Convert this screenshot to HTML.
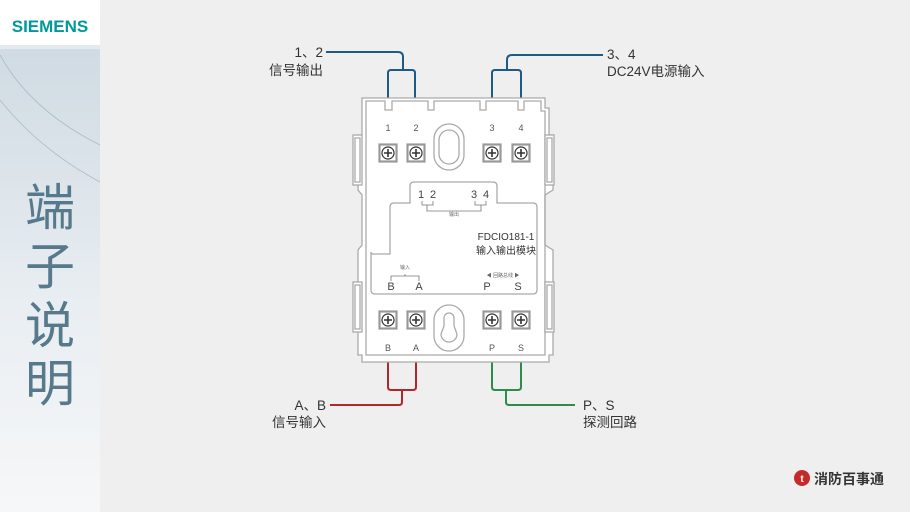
<!DOCTYPE html>
<html><head><meta charset="utf-8"><style>
body{margin:0;width:910px;height:512px;overflow:hidden;background:#efefef;font-family:"Liberation Sans","Noto Sans CJK SC",sans-serif}
</style></head><body>
<svg width="910" height="512" viewBox="0 0 910 512" xmlns="http://www.w3.org/2000/svg" style="position:absolute;left:0;top:0">
<defs>
<linearGradient id="sg" x1="0" y1="0" x2="0" y2="1">
<stop offset="0" stop-color="#cbd7e0"/><stop offset="0.6" stop-color="#e9eef2"/><stop offset="1" stop-color="#f6f7f8"/>
</linearGradient>
<g id="term"><rect x="-8.5" y="-8.5" width="17" height="17" fill="#fff" stroke="#999" stroke-width="2.2"/><circle r="6" fill="#fff" stroke="#333" stroke-width="1.2"/><path d="M-4 0H4M0 -4V4" stroke="#333" stroke-width="1.6"/></g>
</defs>
<rect x="0" y="0" width="910" height="512" fill="#efefef"/>
<rect x="0" y="0" width="100" height="512" fill="url(#sg)"/>
<rect x="0" y="0" width="100" height="45" fill="#fff"/>
<rect x="0" y="45" width="100" height="4" fill="#e4eaee"/>
<text x="50" y="32" text-anchor="middle" font-size="17" font-weight="bold" fill="#009999" font-family="Liberation Sans,sans-serif">SIEMENS</text>
<path d="M0 55 Q30 110 100 145" fill="none" stroke="#a9bcc7" stroke-width="0.8"/>
<path d="M0 100 Q40 150 100 182" fill="none" stroke="#a9bcc7" stroke-width="0.8"/>
<g font-size="50" fill="#56798c" text-anchor="middle">
<text x="50" y="225">端</text><text x="50" y="284">子</text><text x="50" y="343">说</text><text x="50" y="401">明</text>
</g>

<g fill="none" stroke-width="2">
<path d="M326 52H398Q403 52 403 57V70M388 98V73Q388 70 391 70H412Q415 70 415 73V98" stroke="#1f5a86"/>
<path d="M603 55H512Q507 55 507 60V70M492 98V73Q492 70 495 70H518Q521 70 521 73V98" stroke="#1f5a86"/>
<path d="M388 362V387Q388 390 391 390H413Q416 390 416 387V362M402 390V402Q402 405 399 405H330" stroke="#b3262e"/>
<path d="M492 362V387Q492 390 495 390H518Q521 390 521 387V362M506 390V402Q506 405 509 405H575" stroke="#2e8b4a"/>
</g>

<g fill="#fff" stroke="#aaa" stroke-width="1.3">
<path d="M362 98H545V108H549V135H553V190L545 195V245L553 250V355H549V362H362V355H358V250L362 245V195L358 190V135H362V108Z"/>
<path d="M366 101H385V110H392V101H428V110H434V101H480V110H486V101H518V110H524V101H541V111H545V355H366Z" fill="none"/>
<rect x="353" y="135" width="9" height="50"/><rect x="355" y="138" width="5" height="44" fill="none"/>
<rect x="545" y="135" width="9" height="50"/><rect x="547" y="138" width="5" height="44" fill="none"/>
<rect x="353" y="282" width="9" height="50"/><rect x="355" y="285" width="5" height="44" fill="none"/>
<rect x="545" y="282" width="9" height="50"/><rect x="547" y="285" width="5" height="44" fill="none"/>
<rect x="434" y="124" width="30" height="46" rx="15" fill="none"/>
<rect x="439" y="130" width="20" height="34" rx="10" fill="none"/>
<rect x="434" y="305" width="30" height="46" rx="15" fill="none"/>
<path d="M444 318a5 5 0 0 1 10 0v8l3 8a8 8 0 0 1-16 0l3-8z" fill="none"/>
<path d="M371 258V252Q371 254 373 254H390V207Q390 203 394 203H410V186Q410 182 414 182H493Q497 182 497 186V203H533Q537 203 537 207V290Q537 294 533 294H375Q371 294 371 290Z" fill="none"/>
</g>
<use href="#term" x="388" y="153"/><use href="#term" x="416" y="153"/><use href="#term" x="492" y="153"/><use href="#term" x="521" y="153"/>
<use href="#term" x="388" y="320"/><use href="#term" x="416" y="320"/><use href="#term" x="492" y="320"/><use href="#term" x="521" y="320"/>
<g font-size="9" fill="#555" text-anchor="middle">
<text x="388" y="131">1</text><text x="416" y="131">2</text><text x="492" y="131">3</text><text x="521" y="131">4</text>
<text x="388" y="351">B</text><text x="416" y="351">A</text><text x="492" y="351">P</text><text x="521" y="351">S</text>
</g>
<g font-size="11" fill="#444" text-anchor="middle">
<text x="421" y="198">1</text><text x="433" y="198">2</text><text x="474" y="198">3</text><text x="486" y="198">4</text>
<text x="391" y="290">B</text><text x="419" y="290">A</text><text x="487" y="290">P</text><text x="518" y="290">S</text>
</g>
<path d="M422 201v4h11v-4M427 205v6h54v-6M475 201v4h11v-4" fill="none" stroke="#777" stroke-width="0.8"/>
<text x="454" y="216" font-size="5" fill="#666" text-anchor="middle">输出</text>
<path d="M391 281v-5h28v5M405 276v-2" fill="none" stroke="#777" stroke-width="0.8"/>
<text x="405" y="269" font-size="5" fill="#666" text-anchor="middle">输入</text>
<text x="503" y="277" font-size="5" fill="#666" text-anchor="middle">◀ 回路总线 ▶</text>
<text x="506" y="240" font-size="10" fill="#333" text-anchor="middle">FDCIO181-1</text>
<text x="506" y="254" font-size="10" fill="#333" text-anchor="middle">输入输出模块</text>

<g font-size="13.5" fill="#333">
<text x="323" y="57" text-anchor="end">1、2</text><text x="323" y="75" text-anchor="end">信号输出</text>
<text x="607" y="59">3、4</text><text x="607" y="76">DC24V电源输入</text>
<text x="326" y="410" text-anchor="end">A、B</text><text x="326" y="427" text-anchor="end">信号输入</text>
<text x="583" y="410">P、S</text><text x="583" y="427">探测回路</text>
</g>
<circle cx="802" cy="478" r="8" fill="#c52a2a"/><text x="802" y="482" font-size="10" fill="#fff" text-anchor="middle" font-weight="bold">t</text>
<text x="814" y="484" font-size="14" font-weight="bold" fill="#333">消防百事通</text>
</svg>
</body></html>
